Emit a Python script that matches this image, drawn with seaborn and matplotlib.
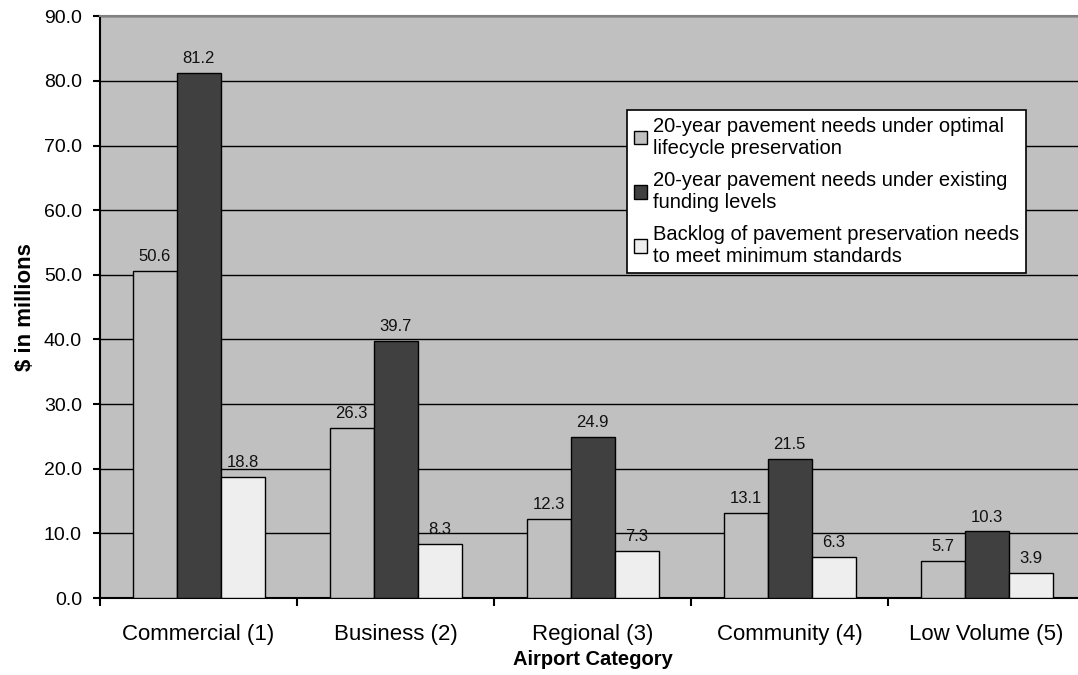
import matplotlib
matplotlib.use("Agg")
import matplotlib.pyplot as plt
import seaborn as sns
import pandas as pd
from matplotlib.ticker import FixedLocator, FormatStrFormatter

categories = ["Commercial (1)", "Business (2)", "Regional (3)", "Community (4)", "Low Volume (5)"]
series_names = [
    "20-year pavement needs under optimal\nlifecycle preservation",
    "20-year pavement needs under existing\nfunding levels",
    "Backlog of pavement preservation needs\nto meet minimum standards",
]
optimal = [50.6, 26.3, 12.3, 13.1, 5.7]
existing = [81.2, 39.7, 24.9, 21.5, 10.3]
backlog = [18.8, 8.3, 7.3, 6.3, 3.9]
colors = ["#C0C0C0", "#404040", "#EEEEEE"]

rows = []
for name, vals in zip(series_names, [optimal, existing, backlog]):
    for c, v in zip(categories, vals):
        rows.append({"Airport Category": c, "Series": name, "Value": v})
df = pd.DataFrame(rows)

sns.set_theme(style="white")
plt.rcParams["font.family"] = ["Liberation Sans", "DejaVu Sans"]
plt.rcParams["text.color"] = "black"
plt.rcParams["axes.labelcolor"] = "black"
plt.rcParams["xtick.color"] = "black"
plt.rcParams["ytick.color"] = "black"

fig = plt.figure(figsize=(10.78, 6.75), dpi=100)
# plot area runs slightly past the right edge of the canvas
ax = fig.add_axes([0.0928, 0.114, 0.9137, 0.862])
ax.set_facecolor("#C0C0C0")

sns.barplot(data=df, x="Airport Category", y="Value", hue="Series",
            order=categories, hue_order=series_names, palette=colors,
            width=0.67, edgecolor="black", linewidth=1.0, saturation=1,
            ax=ax, zorder=3)

for cont in ax.containers:
    ax.bar_label(cont, fmt="%.1f", padding=5, fontsize=12, color="#111111")

ax.set_ylim(0, 90)
ax.set_xlim(-0.5, 4.5)
ax.yaxis.set_major_locator(FixedLocator([i * 10 for i in range(10)]))
ax.yaxis.set_major_formatter(FormatStrFormatter("%.1f"))
ax.grid(axis="y", color="black", linewidth=1.0, zorder=0)
ax.set_axisbelow(True)

ax.tick_params(axis="y", which="major", direction="out", length=5, width=1.5,
               color="black", labelsize=14, pad=8, left=True)
ax.set_xticks(range(len(categories)))
ax.set_xticklabels(categories)
ax.tick_params(axis="x", which="major", length=0, labelsize=16, pad=19)
ax.set_xticks([i - 0.5 for i in range(len(categories) + 1)], minor=True)
ax.tick_params(axis="x", which="minor", direction="out", length=6, width=1.5,
               color="black", bottom=True)

for side in ["left", "bottom"]:
    ax.spines[side].set_color("black")
    ax.spines[side].set_linewidth(1.5)
for side in ["top", "right"]:
    ax.spines[side].set_color("#808080")
    ax.spines[side].set_linewidth(1.5)

ax.set_xlabel("Airport Category", fontsize=14.5, fontweight="bold", labelpad=3)
ax.set_ylabel("\\$ in millions", fontsize=16, fontweight="bold", labelpad=6)

leg = ax.legend(loc="upper left", bbox_to_anchor=(0.535, 0.8385), fontsize=14.5,
                frameon=True, fancybox=False, edgecolor="black", framealpha=1,
                handlelength=0.65, handleheight=0.65, handletextpad=0.3,
                labelspacing=0.65, borderpad=0.33, borderaxespad=0)
leg.get_frame().set_linewidth(1.2)
for t in leg.get_texts():
    t.set_linespacing(1.2)
for h in leg.legend_handles:
    h.set_edgecolor("black")
    h.set_linewidth(1.0)
leg.set_zorder(10)

fig.savefig("out.png", dpi=100)
